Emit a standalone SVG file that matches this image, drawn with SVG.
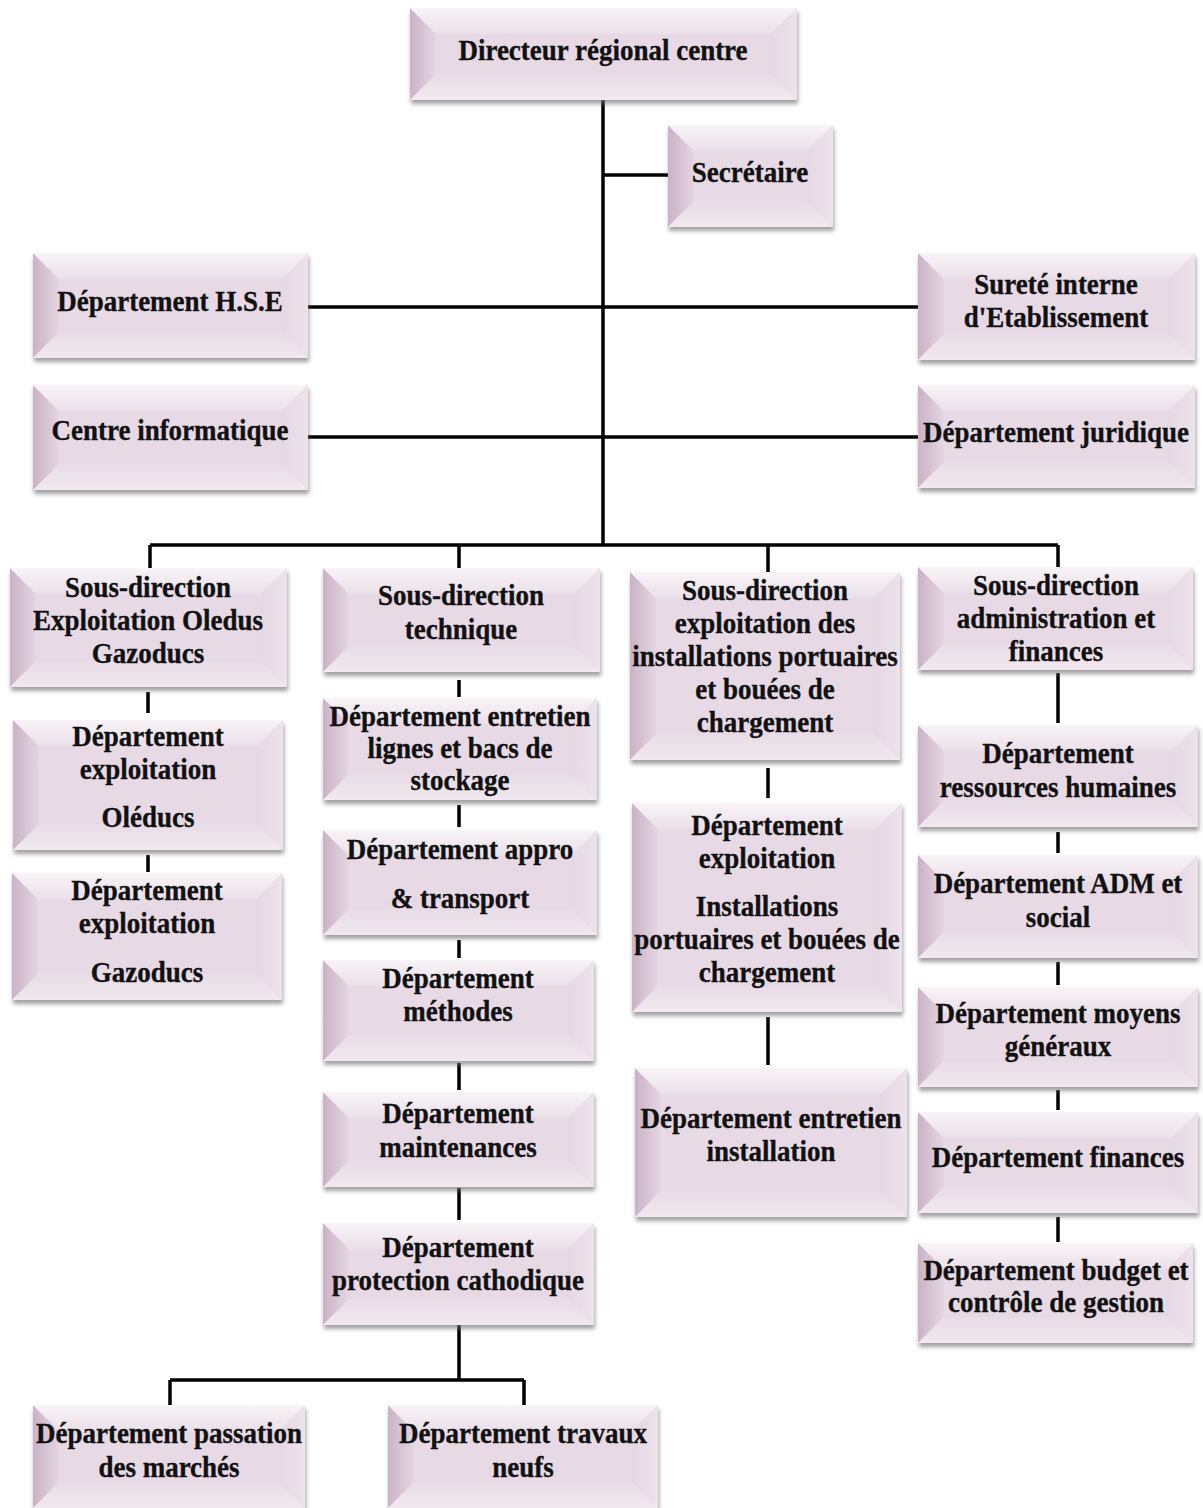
<svg xmlns="http://www.w3.org/2000/svg" width="1203" height="1508" viewBox="0 0 1203 1508">
<defs>
<filter id="sh" x="-5%" y="-10%" width="110%" height="130%">
<feDropShadow dx="1" dy="4" stdDeviation="2" flood-color="#6e6e6e" flood-opacity="0.65"/>
</filter>
<linearGradient id="gl" x1="0" y1="0" x2="1" y2="0"><stop offset="0" stop-color="#cbb2c6"/><stop offset="1" stop-color="#e4d6e2"/></linearGradient>
<linearGradient id="gt" x1="0" y1="0" x2="0" y2="1"><stop offset="0" stop-color="#f8f4f7"/><stop offset="1" stop-color="#ebe0e9"/></linearGradient>
<linearGradient id="gr" x1="0" y1="0" x2="1" y2="0"><stop offset="0" stop-color="#e5d8e3"/><stop offset="1" stop-color="#ede3eb"/></linearGradient>
<linearGradient id="gb" x1="0" y1="0" x2="0" y2="1"><stop offset="0" stop-color="#e8dce6"/><stop offset="1" stop-color="#f1e9ef"/></linearGradient>
</defs>
<style>
.base{fill:#e7dae5;filter:url(#sh)}
.l{fill:url(#gl)}
.t{fill:url(#gt)}
.r{fill:url(#gr)}
.b{fill:url(#gb)}
text{font-family:"Liberation Serif","Times New Roman",serif;font-weight:bold;font-size:30px;fill:#111;stroke:#111;stroke-width:0.35;text-anchor:middle}
.c{fill:none;stroke:#000;stroke-width:3.5}
</style>
<rect width="1203" height="1508" fill="#fff"/>

<g id="connectors" class="c">
<path class="c" d="M603 100V545"/>
<path class="c" d="M603 175H668"/>
<path class="c" d="M308 307H918"/>
<path class="c" d="M308 437H918"/>
<path class="c" d="M150 545H1058"/>
<path class="c" d="M150 545V568M459 545V568M768 545V572M1058 545V567"/>
<path class="c" d="M148 692V713M148 855V872"/>
<path class="c" d="M459 680V697M459 805V827M459 940V958M459 1063V1090M459 1188V1220M459 1325V1380"/>
<path class="c" d="M170 1380H524M170 1380V1405M524 1380V1405"/>
<path class="c" d="M768 768V798M768 1017V1065"/>
<path class="c" d="M1058 673V723M1058 832V853M1058 962V985M1058 1090V1110M1058 1217V1242"/>
</g>

<g id="n1"><rect class="base" x="410" y="8" width="387" height="92"/>
<polygon class="l" points="410,8 436,34 436,74 410,100"/><polygon class="t" points="410,8 797,8 771,34 436,34"/><polygon class="r" points="797,8 797,100 771,74 771,34"/><polygon class="b" points="410,100 436,74 771,74 797,100"/>
<text transform="matrix(0.9 0 0 1 603 0)" x="0" y="60">Directeur régional centre</text></g>

<g id="n2"><rect class="base" x="668" y="125" width="165" height="102"/>
<polygon class="l" points="668,125 694,151 694,201 668,227"/><polygon class="t" points="668,125 833,125 807,151 694,151"/><polygon class="r" points="833,125 833,227 807,201 807,151"/><polygon class="b" points="668,227 694,201 807,201 833,227"/>
<text transform="matrix(0.9 0 0 1 750 0)" x="0" y="182">Secrétaire</text></g>

<g id="n3"><rect class="base" x="33" y="253" width="275" height="105"/>
<polygon class="l" points="33,253 59,279 59,332 33,358"/><polygon class="t" points="33,253 308,253 282,279 59,279"/><polygon class="r" points="308,253 308,358 282,332 282,279"/><polygon class="b" points="33,358 59,332 282,332 308,358"/>
<text transform="matrix(0.9 0 0 1 170 0)" x="0" y="311">Département H.S.E</text></g>

<g id="n4"><rect class="base" x="918" y="253" width="277" height="107"/>
<polygon class="l" points="918,253 944,279 944,334 918,360"/><polygon class="t" points="918,253 1195,253 1169,279 944,279"/><polygon class="r" points="1195,253 1195,360 1169,334 1169,279"/><polygon class="b" points="918,360 944,334 1169,334 1195,360"/>
<text transform="matrix(0.9 0 0 1 1056 0)"><tspan x="0" y="294">Sureté interne</tspan><tspan x="0" y="327">d'Etablissement</tspan></text></g>

<g id="n5"><rect class="base" x="33" y="385" width="275" height="105"/>
<polygon class="l" points="33,385 59,411 59,464 33,490"/><polygon class="t" points="33,385 308,385 282,411 59,411"/><polygon class="r" points="308,385 308,490 282,464 282,411"/><polygon class="b" points="33,490 59,464 282,464 308,490"/>
<text transform="matrix(0.9 0 0 1 170 0)" x="0" y="440">Centre informatique</text></g>

<g id="n6"><rect class="base" x="918" y="385" width="277" height="103"/>
<polygon class="l" points="918,385 944,411 944,462 918,488"/><polygon class="t" points="918,385 1195,385 1169,411 944,411"/><polygon class="r" points="1195,385 1195,488 1169,462 1169,411"/><polygon class="b" points="918,488 944,462 1169,462 1195,488"/>
<text transform="matrix(0.9 0 0 1 1056 0)" x="0" y="442">Département juridique</text></g>

<g id="n7"><rect class="base" x="10" y="568" width="277" height="119"/>
<polygon class="l" points="10,568 36,594 36,661 10,687"/><polygon class="t" points="10,568 287,568 261,594 36,594"/><polygon class="r" points="287,568 287,687 261,661 261,594"/><polygon class="b" points="10,687 36,661 261,661 287,687"/>
<text transform="matrix(0.9 0 0 1 148 0)"><tspan x="0" y="597">Sous-direction</tspan><tspan x="0" y="630">Exploitation Oledus</tspan><tspan x="0" y="663">Gazoducs</tspan></text></g>

<g id="n8"><rect class="base" x="323" y="568" width="277" height="104"/>
<polygon class="l" points="323,568 349,594 349,646 323,672"/><polygon class="t" points="323,568 600,568 574,594 349,594"/><polygon class="r" points="600,568 600,672 574,646 574,594"/><polygon class="b" points="323,672 349,646 574,646 600,672"/>
<text transform="matrix(0.9 0 0 1 461 0)"><tspan x="0" y="605">Sous-direction</tspan><tspan x="0" y="639">technique</tspan></text></g>

<g id="n9"><rect class="base" x="630" y="572" width="270" height="188"/>
<polygon class="l" points="630,572 656,598 656,734 630,760"/><polygon class="t" points="630,572 900,572 874,598 656,598"/><polygon class="r" points="900,572 900,760 874,734 874,598"/><polygon class="b" points="630,760 656,734 874,734 900,760"/>
<text transform="matrix(0.9 0 0 1 765 0)"><tspan x="0" y="600">Sous-direction</tspan><tspan x="0" y="633">exploitation des</tspan><tspan x="0" y="666">installations portuaires</tspan><tspan x="0" y="699">et bouées de</tspan><tspan x="0" y="732">chargement</tspan></text></g>

<g id="n10"><rect class="base" x="918" y="567" width="275" height="103"/>
<polygon class="l" points="918,567 944,593 944,644 918,670"/><polygon class="t" points="918,567 1193,567 1167,593 944,593"/><polygon class="r" points="1193,567 1193,670 1167,644 1167,593"/><polygon class="b" points="918,670 944,644 1167,644 1193,670"/>
<text transform="matrix(0.9 0 0 1 1056 0)"><tspan x="0" y="595">Sous-direction</tspan><tspan x="0" y="628">administration et</tspan><tspan x="0" y="661">finances</tspan></text></g>

<g id="n11"><rect class="base" x="13" y="720" width="270" height="130"/>
<polygon class="l" points="13,720 39,746 39,824 13,850"/><polygon class="t" points="13,720 283,720 257,746 39,746"/><polygon class="r" points="283,720 283,850 257,824 257,746"/><polygon class="b" points="13,850 39,824 257,824 283,850"/>
<text transform="matrix(0.9 0 0 1 148 0)"><tspan x="0" y="746">Département</tspan><tspan x="0" y="779">exploitation</tspan><tspan x="0" y="827">Oléducs</tspan></text></g>

<g id="n12"><rect class="base" x="12" y="873" width="270" height="127"/>
<polygon class="l" points="12,873 38,899 38,974 12,1000"/><polygon class="t" points="12,873 282,873 256,899 38,899"/><polygon class="r" points="282,873 282,1000 256,974 256,899"/><polygon class="b" points="12,1000 38,974 256,974 282,1000"/>
<text transform="matrix(0.9 0 0 1 147 0)"><tspan x="0" y="900">Département</tspan><tspan x="0" y="933">exploitation</tspan><tspan x="0" y="982">Gazoducs</tspan></text></g>

<g id="n13"><rect class="base" x="323" y="698" width="274" height="102"/>
<polygon class="l" points="323,698 349,724 349,774 323,800"/><polygon class="t" points="323,698 597,698 571,724 349,724"/><polygon class="r" points="597,698 597,800 571,774 571,724"/><polygon class="b" points="323,800 349,774 571,774 597,800"/>
<text transform="matrix(0.9 0 0 1 460 0)"><tspan x="0" y="726">Département entretien</tspan><tspan x="0" y="758">lignes et bacs de</tspan><tspan x="0" y="790">stockage</tspan></text></g>

<g id="n14"><rect class="base" x="323" y="830" width="274" height="105"/>
<polygon class="l" points="323,830 349,856 349,909 323,935"/><polygon class="t" points="323,830 597,830 571,856 349,856"/><polygon class="r" points="597,830 597,935 571,909 571,856"/><polygon class="b" points="323,935 349,909 571,909 597,935"/>
<text transform="matrix(0.9 0 0 1 460 0)"><tspan x="0" y="859">Département appro</tspan><tspan x="0" y="908">&amp; transport</tspan></text></g>

<g id="n15"><rect class="base" x="323" y="960" width="271" height="101"/>
<polygon class="l" points="323,960 349,986 349,1035 323,1061"/><polygon class="t" points="323,960 594,960 568,986 349,986"/><polygon class="r" points="594,960 594,1061 568,1035 568,986"/><polygon class="b" points="323,1061 349,1035 568,1035 594,1061"/>
<text transform="matrix(0.9 0 0 1 458 0)"><tspan x="0" y="988">Département</tspan><tspan x="0" y="1021">méthodes</tspan></text></g>

<g id="n16"><rect class="base" x="323" y="1092" width="271" height="95"/>
<polygon class="l" points="323,1092 349,1118 349,1161 323,1187"/><polygon class="t" points="323,1092 594,1092 568,1118 349,1118"/><polygon class="r" points="594,1092 594,1187 568,1161 568,1118"/><polygon class="b" points="323,1187 349,1161 568,1161 594,1187"/>
<text transform="matrix(0.9 0 0 1 458 0)"><tspan x="0" y="1123">Département</tspan><tspan x="0" y="1157">maintenances</tspan></text></g>

<g id="n17"><rect class="base" x="323" y="1223" width="271" height="102"/>
<polygon class="l" points="323,1223 349,1249 349,1299 323,1325"/><polygon class="t" points="323,1223 594,1223 568,1249 349,1249"/><polygon class="r" points="594,1223 594,1325 568,1299 568,1249"/><polygon class="b" points="323,1325 349,1299 568,1299 594,1325"/>
<text transform="matrix(0.9 0 0 1 458 0)"><tspan x="0" y="1257">Département</tspan><tspan x="0" y="1290">protection cathodique</tspan></text></g>

<g id="n18"><rect class="base" x="33" y="1405" width="272" height="103"/>
<polygon class="l" points="33,1405 59,1431 59,1482 33,1508"/><polygon class="t" points="33,1405 305,1405 279,1431 59,1431"/><polygon class="r" points="305,1405 305,1508 279,1482 279,1431"/><polygon class="b" points="33,1508 59,1482 279,1482 305,1508"/>
<text transform="matrix(0.9 0 0 1 169 0)"><tspan x="0" y="1443">Département passation</tspan><tspan x="0" y="1477">des marchés</tspan></text></g>

<g id="n19"><rect class="base" x="388" y="1405" width="270" height="103"/>
<polygon class="l" points="388,1405 414,1431 414,1482 388,1508"/><polygon class="t" points="388,1405 658,1405 632,1431 414,1431"/><polygon class="r" points="658,1405 658,1508 632,1482 632,1431"/><polygon class="b" points="388,1508 414,1482 632,1482 658,1508"/>
<text transform="matrix(0.9 0 0 1 523 0)"><tspan x="0" y="1443">Département travaux</tspan><tspan x="0" y="1477">neufs</tspan></text></g>

<g id="n20"><rect class="base" x="632" y="803" width="270" height="209"/>
<polygon class="l" points="632,803 658,829 658,986 632,1012"/><polygon class="t" points="632,803 902,803 876,829 658,829"/><polygon class="r" points="902,803 902,1012 876,986 876,829"/><polygon class="b" points="632,1012 658,986 876,986 902,1012"/>
<text transform="matrix(0.9 0 0 1 767 0)"><tspan x="0" y="835">Département</tspan><tspan x="0" y="868">exploitation</tspan><tspan x="0" y="916">Installations</tspan><tspan x="0" y="949">portuaires et bouées de</tspan><tspan x="0" y="982">chargement</tspan></text></g>

<g id="n21"><rect class="base" x="635" y="1068" width="272" height="149"/>
<polygon class="l" points="635,1068 661,1094 661,1191 635,1217"/><polygon class="t" points="635,1068 907,1068 881,1094 661,1094"/><polygon class="r" points="907,1068 907,1217 881,1191 881,1094"/><polygon class="b" points="635,1217 661,1191 881,1191 907,1217"/>
<text transform="matrix(0.9 0 0 1 771 0)"><tspan x="0" y="1128">Département entretien</tspan><tspan x="0" y="1161">installation</tspan></text></g>

<g id="n22"><rect class="base" x="918" y="725" width="280" height="102"/>
<polygon class="l" points="918,725 944,751 944,801 918,827"/><polygon class="t" points="918,725 1198,725 1172,751 944,751"/><polygon class="r" points="1198,725 1198,827 1172,801 1172,751"/><polygon class="b" points="918,827 944,801 1172,801 1198,827"/>
<text transform="matrix(0.9 0 0 1 1058 0)"><tspan x="0" y="763">Département</tspan><tspan x="0" y="797">ressources humaines</tspan></text></g>

<g id="n23"><rect class="base" x="918" y="855" width="280" height="103"/>
<polygon class="l" points="918,855 944,881 944,932 918,958"/><polygon class="t" points="918,855 1198,855 1172,881 944,881"/><polygon class="r" points="1198,855 1198,958 1172,932 1172,881"/><polygon class="b" points="918,958 944,932 1172,932 1198,958"/>
<text transform="matrix(0.9 0 0 1 1058 0)"><tspan x="0" y="893">Département ADM et</tspan><tspan x="0" y="927">social</tspan></text></g>

<g id="n24"><rect class="base" x="918" y="987" width="280" height="100"/>
<polygon class="l" points="918,987 944,1013 944,1061 918,1087"/><polygon class="t" points="918,987 1198,987 1172,1013 944,1013"/><polygon class="r" points="1198,987 1198,1087 1172,1061 1172,1013"/><polygon class="b" points="918,1087 944,1061 1172,1061 1198,1087"/>
<text transform="matrix(0.9 0 0 1 1058 0)"><tspan x="0" y="1023">Département moyens</tspan><tspan x="0" y="1056">généraux</tspan></text></g>

<g id="n25"><rect class="base" x="918" y="1112" width="280" height="101"/>
<polygon class="l" points="918,1112 944,1138 944,1187 918,1213"/><polygon class="t" points="918,1112 1198,1112 1172,1138 944,1138"/><polygon class="r" points="1198,1112 1198,1213 1172,1187 1172,1138"/><polygon class="b" points="918,1213 944,1187 1172,1187 1198,1213"/>
<text transform="matrix(0.9 0 0 1 1058 0)" x="0" y="1167">Département finances</text></g>

<g id="n26"><rect class="base" x="918" y="1243" width="275" height="100"/>
<polygon class="l" points="918,1243 944,1269 944,1317 918,1343"/><polygon class="t" points="918,1243 1193,1243 1167,1269 944,1269"/><polygon class="r" points="1193,1243 1193,1343 1167,1317 1167,1269"/><polygon class="b" points="918,1343 944,1317 1167,1317 1193,1343"/>
<text transform="matrix(0.9 0 0 1 1056 0)"><tspan x="0" y="1280">Département budget et</tspan><tspan x="0" y="1312">contrôle de gestion</tspan></text></g>
</svg>
